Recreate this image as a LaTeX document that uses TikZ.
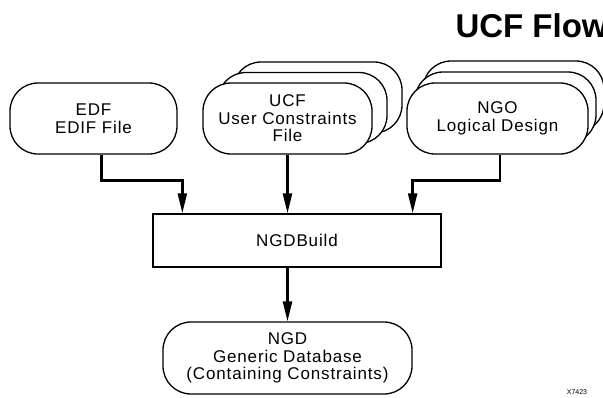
\documentclass[tikz,border=0pt]{standalone}
\usepackage{fontspec}
\setmainfont{Liberation Sans}
\usepackage{tikz}
\usetikzlibrary{arrows.meta}
\usetikzlibrary{positioning}
\usetikzlibrary{calc}

\tikzset{
  filebox/.style={draw=black, line width=1.3pt, fill=white, rounded corners=28pt,
    minimum height=71pt, inner sep=0pt, align=center,
    font=\fontsize{17}{17.5}\selectfont\addfontfeature{LetterSpace=5}},
  toolbox/.style={draw=black, line width=1.3pt, minimum width=288pt, minimum height=53pt,
    inner sep=0pt, font=\fontsize{17}{17.5}\selectfont\addfontfeature{LetterSpace=5}},
  flow/.style={line width=2.4pt, -{Triangle[length=20pt,width=9pt]}}
}

\begin{document}
\begin{tikzpicture}[x=1pt,y=-1pt]
\useasboundingbox (0,0) rectangle (603,397);
%% title and figure number
\node[anchor=base west, font=\fontsize{33}{36}\selectfont\bfseries] (title) at (452,37) {UCF Flow};
\node[anchor=base, font=\fontsize{7}{8}\selectfont] (fignum) at (577,394) {X7423};
%% stacked copies behind UCF and NGO
\foreach \i in {2,1} {
   \node[filebox, minimum width=169pt] (ucfback\i) at (287.5+15*\i,118.5-10.5*\i) {};
   \node[filebox, minimum width=181pt] (ngoback\i) at (497.5+8*\i,118.5-11*\i) {};
}
%% input files
\node[filebox, minimum width=167pt] (edf) at (93.5,118.5) {EDF\\EDIF File};
\node[filebox, minimum width=169pt] (ucf) at (287.5,118.5) {UCF\\User Constraints\\File};
\node[filebox, minimum width=181pt] (ngo) at (497.5,118.5) {NGO\\Logical Design};
%% tool and output
\node[toolbox] (build) at (297,240.5) {NGDBuild};
\node[filebox, minimum width=249pt, minimum height=72pt] (ngd) at (287.5,358) {NGD\\Generic Database\\(Containing Constraints)};
\coordinate (edfin) at ($(build.north west)+(30,0)$);
\coordinate (ngoin) at ($(build.north east)+(-29,0)$);
%% connectors
\draw[flow] ([xshift=8pt]edf.south) -- ++(0,26) -| (edfin);
\draw[flow] (ucf.south) -- (ucf.south |- build.north);
\draw[flow] ([xshift=2.5pt]ngo.south) -- ++(0,26) -| (ngoin);
\draw[flow] (build.south -| ngd.north) -- (ngd.north);
\end{tikzpicture}
\end{document}
